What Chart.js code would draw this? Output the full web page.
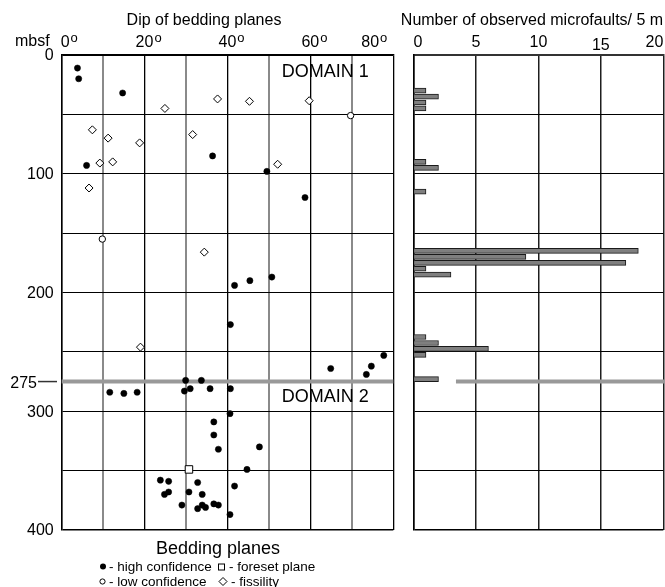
<!DOCTYPE html>
<html>
<head>
<meta charset="utf-8">
<script src="https://cdn.jsdelivr.net/npm/chart.js@4/dist/chart.umd.min.js"></script>
<style>
  html, body { margin: 0; padding: 0; background: #fff; }
  #wrap { position: relative; width: 665px; height: 587px; }
  #wrap canvas { position: absolute; left: 0; top: 0; }
</style>
</head>
<body>
<div id="wrap">
  <canvas id="dip" width="665" height="587"></canvas>
  <canvas id="faults" width="665" height="587"></canvas>
</div>
<script>
// Bedding-plane dips: [dip in degrees, depth in mbsf]
const highConfidence = [
  [3.8, 11], [4.1, 20], [14.7, 32], [36.4, 85], [6.0, 93], [49.5, 98], [58.7, 120],
  [50.7, 187], [45.4, 190], [41.7, 194], [40.7, 227], [77.7, 253], [74.7, 262],
  [64.9, 264], [73.5, 269], [29.9, 274], [33.7, 274],
  [31.0, 281], [35.8, 281], [40.7, 281], [29.6, 283], [11.6, 284], [18.2, 284], [15.0, 285],
  [40.6, 302], [36.7, 309], [36.7, 320], [47.7, 330], [37.8, 332], [44.7, 349],
  [23.8, 358], [25.8, 359], [32.8, 360], [41.7, 363], [25.8, 368], [30.7, 368],
  [24.8, 370], [33.9, 370], [36.7, 378], [29.0, 379], [33.9, 379], [37.8, 379],
  [34.7, 381], [32.8, 382], [40.6, 387]
];
const lowConfidence = [[69.7, 51], [9.8, 155]];
const foresetPlanes = [[30.7, 349]];
const fissility = [
  [37.6, 37], [59.7, 38.5], [45.3, 39], [24.9, 45], [7.4, 63], [31.6, 67], [11.2, 70],
  [18.8, 74], [12.3, 90], [9.2, 91], [52.1, 92], [6.6, 112], [34.4, 166], [19.0, 246]
];

// Microfaults counted in 5 m intervals
const faultDepths = [30, 35, 40, 45, 90, 95, 115, 165, 170, 175, 180, 185,
                     237.5, 242.5, 247.5, 252.5, 273];
const faultCounts = [1, 2, 1, 1, 1, 2, 1, 18, 9, 17, 1, 3, 1, 2, 6, 1, 2];

// Axis labels
const dipTicks = [0, 20, 40, 60, 80];
const depthTicks = [0, 100, 200, 300, 400];
const countTicks = [0, 5, 10, 15, 20];
const domainBoundary = 275;

const FONT = "'Liberation Sans', Arial, Helvetica, sans-serif";
const toXY = pairs => pairs.map(([x, y]) => ({ x, y }));

// degree label drawn as number with a raised "o"
function degreeLabel(ctx, text, x, y, align) {
  ctx.font = `16px ${FONT}`;
  const w1 = ctx.measureText(text).width;
  ctx.font = `13px ${FONT}`;
  const w2 = ctx.measureText('o').width;
  const total = w1 + 1 + w2;
  const left = align === 'left' ? x : align === 'right' ? x - total : x - total / 2;
  ctx.textAlign = 'left';
  ctx.textBaseline = 'alphabetic';
  ctx.font = `16px ${FONT}`;
  ctx.fillText(text, left, y);
  ctx.font = `13px ${FONT}`;
  ctx.fillText('o', left + w1 + 1, y - 4.7);
}

const boundaryLine = {
  id: 'boundaryLine',
  beforeDatasetsDraw(chart, args, opts) {
    const { ctx, chartArea } = chart;
    const y = chart.scales.y.getPixelForValue(domainBoundary);
    const x0 = opts.from != null ? chart.scales.x.getPixelForValue(opts.from) : chartArea.left;
    const x1 = opts.toEdge ? chart.width : chartArea.right;
    ctx.save();
    ctx.strokeStyle = '#999';
    ctx.lineWidth = 4;
    ctx.beginPath();
    ctx.moveTo(x0, y);
    ctx.lineTo(x1, y);
    ctx.stroke();
    ctx.restore();
  }
};

const dipText = {
  id: 'dipText',
  afterDraw(chart) {
    const { ctx, chartArea } = chart;
    const xs = chart.scales.x, ys = chart.scales.y;
    ctx.save();
    ctx.fillStyle = '#000';

    ctx.font = `16px ${FONT}`;
    ctx.textAlign = 'center';
    ctx.textBaseline = 'alphabetic';
    ctx.fillText('Dip of bedding planes', 204, 25);

    ctx.textAlign = 'left';
    ctx.fillText('mbsf', 15, 46);

    dipTicks.forEach((v, i) => {
      const px = xs.getPixelForValue(v);
      if (i === 0) degreeLabel(ctx, String(v), px - 1, 46.5, 'left');
      else if (i === dipTicks.length - 1) degreeLabel(ctx, String(v), px - 6, 46.5, 'right');
      else degreeLabel(ctx, String(v), px + 4, 46.5, 'center');
    });

    ctx.font = `16px ${FONT}`;
    ctx.textAlign = 'right';
    ctx.textBaseline = 'middle';
    depthTicks.forEach(v => {
      ctx.fillText(String(v), chartArea.left - 8, ys.getPixelForValue(v) + 1);
    });

    // domain boundary label with its tick
    const by = ys.getPixelForValue(domainBoundary);
    ctx.fillText(String(domainBoundary), 37, by + 2);
    ctx.strokeStyle = '#333';
    ctx.lineWidth = 1.5;
    ctx.beginPath();
    ctx.moveTo(38, by);
    ctx.lineTo(57, by);
    ctx.stroke();

    ctx.font = `18px ${FONT}`;
    ctx.textAlign = 'left';
    ctx.fillText('DOMAIN 1', xs.getPixelForValue(53.1), ys.getPixelForValue(14.6));
    ctx.fillText('DOMAIN 2', xs.getPixelForValue(53.1), ys.getPixelForValue(287.8));

    // key for the symbols
    ctx.font = `18px ${FONT}`;
    ctx.textAlign = 'center';
    ctx.textBaseline = 'alphabetic';
    ctx.fillText('Bedding planes', 218, 554);

    ctx.font = `13.5px ${FONT}`;
    ctx.textAlign = 'left';
    ctx.fillText('- high confidence', 109, 571);
    ctx.fillText('- foreset plane', 229, 571);
    ctx.fillText('- low confidence', 109, 586);
    ctx.fillText('- fissility', 231, 586);

    ctx.lineWidth = 1;
    ctx.strokeStyle = '#000';
    ctx.beginPath();
    ctx.arc(103, 566.5, 3, 0, Math.PI * 2);
    ctx.fill();
    ctx.beginPath();
    ctx.arc(102.5, 581.5, 2.6, 0, Math.PI * 2);
    ctx.stroke();
    ctx.strokeRect(218.5, 564, 6, 6);
    ctx.beginPath();
    ctx.moveTo(223, 577.5);
    ctx.lineTo(227, 581.5);
    ctx.lineTo(223, 585.5);
    ctx.lineTo(219, 581.5);
    ctx.closePath();
    ctx.stroke();
    ctx.restore();
  }
};

const faultText = {
  id: 'faultText',
  afterDraw(chart) {
    const { ctx } = chart;
    const xs = chart.scales.x;
    ctx.save();
    ctx.fillStyle = '#000';
    ctx.font = `16px ${FONT}`;
    ctx.textBaseline = 'alphabetic';
    ctx.textAlign = 'center';
    ctx.fillText('Number of observed microfaults/ 5 m', 532, 25);
    countTicks.forEach((v, i) => {
      const px = xs.getPixelForValue(v);
      if (i === 0) { ctx.textAlign = 'left'; ctx.fillText(String(v), px, 46.5); }
      else if (i === countTicks.length - 1) { ctx.textAlign = 'right'; ctx.fillText(String(v), px, 46.5); }
      else { ctx.textAlign = 'center'; ctx.fillText(String(v), px, v === 15 ? 49.5 : 46.5); }
    });
    ctx.restore();
  }
};

const gridScaleX = (max, major) => ({
  type: 'linear', position: 'top', min: 0, max,
  ticks: { display: false, stepSize: major / 2 },
  grid: {
    drawTicks: false,
    color: c => (c.tick.value % major === 0 ? '#000' : '#8a8a8a'),
    lineWidth: c => (c.tick.value % major === 0 ? 1.3 : 2)
  },
  border: { display: true, color: '#000', width: 1.5 }
});

const depthScale = () => ({
  type: 'linear', reverse: true, min: 0, max: 400, offset: false,
  ticks: { display: false, stepSize: 50 },
  grid: { drawTicks: false, offset: false, color: '#000', lineWidth: c => (c.tick.value === 400 ? 1.5 : 1) },
  border: { display: true, color: '#000', width: 1.5 }
});

new Chart(document.getElementById('dip'), {
  type: 'scatter',
  data: {
    datasets: [
      { label: 'fissility', data: toXY(fissility), pointStyle: 'rectRot', pointRadius: 4,
        backgroundColor: '#fff', borderColor: '#000', borderWidth: 1 },
      { label: 'low confidence', data: toXY(lowConfidence), pointStyle: 'circle', pointRadius: 3.2,
        backgroundColor: '#fff', borderColor: '#000', borderWidth: 1 },
      { label: 'foreset plane', data: toXY(foresetPlanes), pointStyle: 'rect', pointRadius: 5.3,
        backgroundColor: '#fff', borderColor: '#000', borderWidth: 1 },
      { label: 'high confidence', data: toXY(highConfidence), pointStyle: 'circle', pointRadius: 3.1,
        backgroundColor: '#000', borderColor: '#000', borderWidth: 0.5 }
    ]
  },
  options: {
    responsive: false,
    animation: false,
    events: [],
    layout: { padding: { left: 61.7, top: 55, right: 271.7, bottom: 57 } },
    scales: {
      x: gridScaleX(80, 20),
      y: depthScale()
    },
    plugins: { legend: { display: false }, tooltip: { enabled: false }, boundaryLine: {} }
  },
  plugins: [boundaryLine, dipText]
});

new Chart(document.getElementById('faults'), {
  type: 'bar',
  data: {
    datasets: [{
      label: 'microfaults',
      data: faultDepths.map((d, i) => ({ x: faultCounts[i], y: d })),
      backgroundColor: '#7f7f7f',
      borderColor: '#1a1a1a',
      borderWidth: 1,
      barThickness: 5
    }]
  },
  options: {
    indexAxis: 'y',
    responsive: false,
    animation: false,
    events: [],
    layout: { padding: { left: 413.5, top: 55, right: 1.7, bottom: 57 } },
    scales: {
      x: {
        type: 'linear', position: 'top', min: 0, max: 20,
        ticks: { display: false, stepSize: 5 },
        grid: { drawTicks: false, color: '#1e1e1e', lineWidth: 1.5 },
        border: { display: true, color: '#333', width: 2 }
      },
      y: depthScale()
    },
    plugins: { legend: { display: false }, tooltip: { enabled: false }, boundaryLine: { from: 3.4, toEdge: true } }
  },
  plugins: [boundaryLine, faultText]
});
</script>
</body>
</html>
